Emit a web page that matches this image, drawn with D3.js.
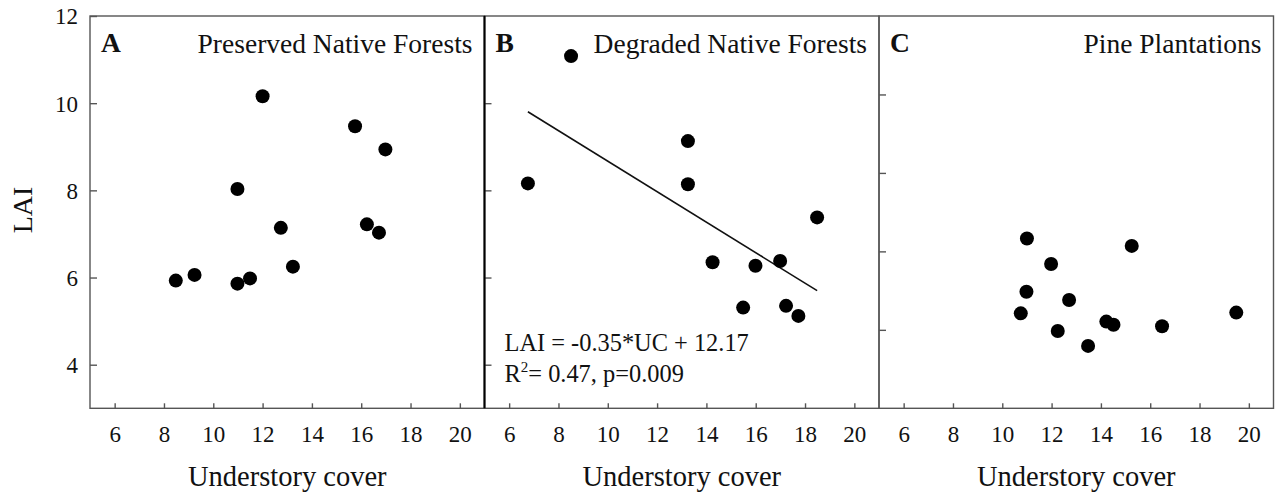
<!DOCTYPE html>
<html>
<head>
<meta charset="utf-8">
<script src="https://cdn.jsdelivr.net/npm/d3@7"></script>
<style>
  body { margin: 0; background: #fff; }
  svg text { fill: #111; }
</style>
</head>
<body>
<div class="chart"></div>
<script>
// understory cover (x) and LAI (y) per panel
const preservedUC  = [12.0, 15.75, 16.98, 10.98, 12.74, 16.23, 16.72, 8.48, 9.24, 10.98, 11.49, 13.23];
const preservedLAI = [10.16, 9.47, 8.94, 8.03, 7.14, 7.22, 7.03, 5.93, 6.06, 5.86, 5.98, 6.25];

const degradedUC  = [8.51, 6.76, 13.25, 13.25, 18.49, 14.25, 15.99, 16.99, 15.49, 17.23, 17.73];
const degradedLAI = [11.08, 8.16, 9.13, 8.14, 7.38, 6.35, 6.27, 6.38, 5.31, 5.35, 5.12];

const pineUC  = [11.0, 15.25, 11.98, 10.98, 12.71, 10.75, 12.25, 13.48, 14.22, 14.51, 16.48, 19.49];
const pineLAI = [6.33, 6.14, 5.68, 4.97, 4.76, 4.42, 3.97, 3.59, 4.21, 4.13, 4.09, 4.44];

const xTicks = [6, 8, 10, 12, 14, 16, 18, 20];
const yTicksA = [4, 6, 8, 10, 12];
const yTicksBC = [4, 6, 8, 10];

// fit for panel B
const slope = -0.35, intercept = 12.17;
const eqLine = "LAI = -0.35*UC + 12.17";
const statsLine = ["R", "2", "= 0.47, p=0.009"];

const panels = [
    {key: "A", title: "Preserved Native Forests", xs: preservedUC, ys: preservedLAI, yDomain: [3, 12], yTicks: yTicksA, labels: true},
    {key: "B", title: "Degraded Native Forests", xs: degradedUC, ys: degradedLAI, yDomain: [3, 12], yTicks: yTicksBC, labels: false},
    {key: "C", title: "Pine Plantations", xs: pineUC, ys: pineLAI, yDomain: [2, 12], yTicks: yTicksBC, labels: false}
];

const W = 1275, H = 495;
const left0 = 90, panelW = 394.5, plotTop = 16, plotBottom = 408.3;
const frameColor = "#555";
const serif = "'Liberation Serif', Tinos, 'DejaVu Serif', serif";

const svg = d3.select(".chart")
    .append("svg")
        .attr("width", W)
        .attr("height", H)
        .attr("font-family", serif);

panels.forEach(function (p, i) {
    const x0 = left0 + i * panelW;
    const x = d3.scaleLinear().domain([5, 21]).range([x0, x0 + panelW]);
    const y = d3.scaleLinear().domain(p.yDomain).range([plotBottom, plotTop]);

    // frame
    svg.append("rect")
        .attr("x", x0).attr("y", plotTop)
        .attr("width", panelW).attr("height", plotBottom - plotTop)
        .attr("fill", "none")
        .attr("stroke", frameColor)
        .attr("stroke-width", 1.4);

    // x axis, ticks pointing in
    const gx = svg.append("g")
        .attr("transform", "translate(0," + plotBottom + ")")
        .call(d3.axisBottom(x).tickValues(xTicks).tickSize(-5).tickFormat(d3.format("d")));
    gx.attr("font-family", serif).attr("font-size", 23);
    gx.select(".domain").remove();
    gx.selectAll(".tick line").attr("stroke", frameColor).attr("stroke-width", 1.4);
    gx.selectAll(".tick text")
        .attr("y", 33.5).attr("dy", 0);

    // y axis, ticks pointing in
    const gy = svg.append("g")
        .attr("transform", "translate(" + x0 + ",0)")
        .call(d3.axisLeft(y).tickValues(p.yTicks).tickSize(-7).tickPadding(12)
            .tickFormat(p.labels ? d3.format("d") : ""));
    gy.attr("font-family", serif).attr("font-size", 23);
    gy.select(".domain").remove();
    gy.selectAll(".tick line").attr("stroke", frameColor).attr("stroke-width", 1.4);
    gy.selectAll(".tick text")
        .attr("dy", "0.34em");

    // panel letter and title
    svg.append("text")
        .attr("x", x0 + 11).attr("y", 51.5)
        .style("font-size", "27.5px").style("font-weight", "bold")
        .text(p.key);
    svg.append("text")
        .attr("x", x0 + panelW - 12).attr("y", 52.5)
        .attr("text-anchor", "end")
        .style("font-size", "27.5px")
        .text(p.title);

    // x title
    svg.append("text")
        .attr("x", x0 + panelW / 2).attr("y", 486)
        .attr("text-anchor", "middle")
        .style("font-size", "28.5px")
        .text("Understory cover");

    // regression for B
    if (p.key === "B") {
        const ext = d3.extent(p.xs);
        svg.append("line")
            .attr("x1", x(ext[0])).attr("y1", y(slope * ext[0] + intercept))
            .attr("x2", x(ext[1])).attr("y2", y(slope * ext[1] + intercept))
            .attr("stroke", "#111")
            .attr("stroke-width", 1.6);

        svg.append("text")
            .attr("x", x0 + 20).attr("y", 351)
            .style("font-size", "24.4px")
            .text(eqLine);
        const t = svg.append("text")
            .attr("x", x0 + 20).attr("y", 382)
            .style("font-size", "24.4px");
        t.append("tspan").text(statsLine[0]);
        t.append("tspan").attr("dy", -10).style("font-size", "15px").text(statsLine[1]);
        t.append("tspan").attr("dy", 10).text(statsLine[2]);
    }

    // points
    svg.append("g")
        .selectAll("circle")
        .data(d3.zip(p.xs, p.ys))
        .enter()
        .append("circle")
            .attr("cx", function (d) { return x(d[0]); })
            .attr("cy", function (d) { return y(d[1]); })
            .attr("r", 7)
            .attr("fill", "#000");
});

// dark axis line between A and B
svg.append("line")
    .attr("x1", left0 + panelW).attr("x2", left0 + panelW)
    .attr("y1", plotTop).attr("y2", plotBottom)
    .attr("stroke", "#000")
    .attr("stroke-width", 2);

// y title
svg.append("text")
    .attr("transform", "translate(32,210) rotate(-90)")
    .attr("text-anchor", "middle")
    .style("font-size", "28px")
    .text("LAI");
</script>
</body>
</html>
